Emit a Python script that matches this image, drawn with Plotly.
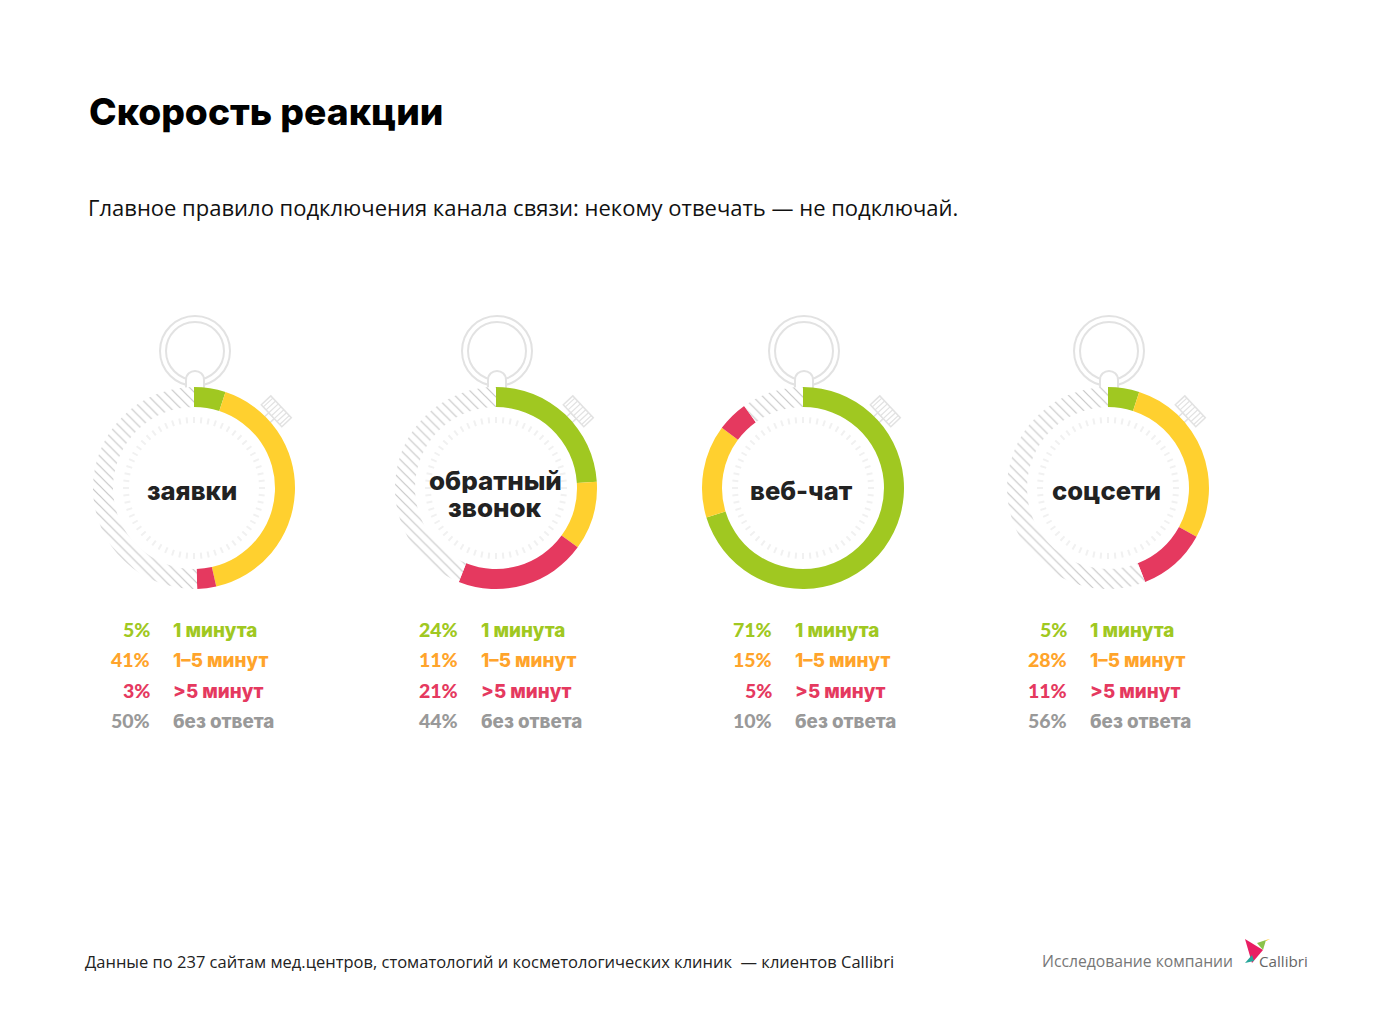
# -*- coding: utf-8 -*-
import math
import plotly.graph_objects as go

W, H = 1380, 1031

# data
ChannelNames = [["заявки"], ["обратный", "звонок"], ["веб-чат"], ["соцсети"]]
Categories = ["1 минута", "1–5 минут", ">5 минут", "без ответа"]
Zayavki = [5, 41, 3, 50]
Zvonok = [24, 11, 21, 44]
WebChat = [71, 15, 5, 10]
SocSeti = [5, 28, 11, 56]
AllValues = [Zayavki, Zvonok, WebChat, SocSeti]

# styles
CenterX = [194, 496, 803, 1108]
PctRight = [152, 460, 774, 1069]
LabLeft = [171, 479, 793, 1088]
CenterY = 488
RowY = [630, 660, 691, 721]
SliceColors = ["#a0c821", "#ffd02f", "#e5395f", "#ffffff"]
LabelColors = ["#a0c821", "#ffa42b", "#e5395f", "#999999"]
HEAD = "Inter"
BODY = "Open Sans"
Outer, Inner = 101, 81

fig = go.Figure()
shapes = []
annots = []


def Txt(x, y, s, size, color, family=BODY, anchor="left", weight=400, height=None):
    annots.append(dict(x=x, y=y, xref="x", yref="y", text=s, showarrow=False, xanchor=anchor, height=height,
                       yanchor="middle", align=anchor,
                       font=dict(size=size, color=color, family=family, weight=weight)))


def Rot(cx, cy, ang, u, v):
    # u along the radius, v along the tangent
    a = math.radians(ang)
    return cx + u * math.sin(a) + v * math.cos(a), cy - u * math.cos(a) + v * math.sin(a)


def PathOf(pts, close=True):
    return "M " + " L ".join("{:.1f} {:.1f}".format(*p) for p in pts) + (" Z" if close else "")


GRAY = "#e2e2e2"
for i, cx in enumerate(CenterX):
    # ring on top of the stopwatch
    for r in (35, 29):
        shapes.append(dict(type="circle", xref="x", yref="y", x0=cx + 1 - r, x1=cx + 1 + r, y0=351 - r, y1=351 + r,
                           line=dict(color=GRAY, width=2), layer="below"))
    shapes.append(dict(type="path", xref="x", yref="y", layer="below", fillcolor="white",
                       line=dict(color=GRAY, width=2),
                       path="M {0} 390 L {0} 380 C {0} 368 {1} 368 {1} 380 L {1} 390".format(cx - 8, cx + 10)))
    # crown, upper right
    stem = [Rot(cx, CenterY, 47, u, v) for u, v in [(98, -4), (106, -4), (106, 4), (98, 4)]]
    shapes.append(dict(type="path", xref="x", yref="y", layer="below", fillcolor="white",
                       line=dict(color=GRAY, width=1.5), path=PathOf(stem)))
    crown = [Rot(cx, CenterY, 47, u, v) for u, v in [(106, -15), (119, -15), (119, 15), (106, 15)]]
    shapes.append(dict(type="path", xref="x", yref="y", layer="below", fillcolor="white",
                       line=dict(color=GRAY, width=1.5), path=PathOf(crown)))
    for v in range(-12, 13, 4):
        p0 = Rot(cx, CenterY, 47, 106, v)
        p1 = Rot(cx, CenterY, 47, 119, v)
        shapes.append(dict(type="line", xref="x", yref="y", layer="below", x0=p0[0], y0=p0[1], x1=p1[0], y1=p1[1],
                           line=dict(color=GRAY, width=1.2)))
    # dial ticks
    tx, ty = [], []
    for k in range(60):
        a = k * 6
        p0 = Rot(cx, CenterY, a, 65, 0)
        p1 = Rot(cx, CenterY, a, 71, 0)
        tx += [p0[0], p1[0], None]
        ty += [p0[1], p1[1], None]
    fig.add_trace(go.Scatter(x=tx, y=ty, mode="lines", line=dict(color="#f1f1f1", width=2), hoverinfo="skip",
                             showlegend=False))
    # donut, the no answer slice is hatched
    fig.add_trace(go.Pie(values=AllValues[i], labels=Categories, sort=False, direction="clockwise", rotation=0,
                         hole=Inner / Outer, textinfo="none", showlegend=False,
                         domain=dict(x=[(cx - Outer) / W, (cx + Outer) / W],
                                     y=[1 - (CenterY + Outer) / H, 1 - (CenterY - Outer) / H]),
                         marker=dict(colors=SliceColors, line=dict(width=0),
                                     pattern=dict(shape=["", "", "", "\\"], fgcolor="#c8c8c8", bgcolor="#ffffff",
                                                  size=7, solidity=0.17))))
    # centre label
    name = ChannelNames[i]
    if len(name) == 1:
        Txt(cx - 2, 490, name[0], 25.6, "#222222", HEAD, "center", 800)
    else:
        Txt(cx - 1, 480, name[0], 26, "#222222", HEAD, "center", 800, height=26)
        Txt(cx - 1, 507, name[1], 26, "#222222", HEAD, "center", 800, height=26)
    # rows under the donut
    for j, cat in enumerate(Categories):
        Txt(PctRight[i], RowY[j] - 1, "{}%".format(AllValues[i][j]), 19.5, LabelColors[j], "Lato", "right", 900)
        Txt(LabLeft[i], RowY[j], cat, 18.8, LabelColors[j], HEAD, "left", 800)

Txt(87, 111, "Скорость реакции", 37.2, "#000000", HEAD, "left", 800)
Txt(86, 207, "Главное правило подключения канала связи: некому отвечать — не подключай.", 22, "#111111")
Txt(83, 961, "Данные по 237 сайтам мед.центров, стоматологий и косметологических клиник  — клиентов Callibri", 16.5, "#222222")
Txt(1040, 961, "Исследование компании", 15.7, "#777777")
Txt(1257, 961, "Callibri", 15.2, "#666666")

# little bird of the logo
for pts, col in [([(1245, 939), (1263, 950), (1252, 963)], "#e91e63"),
                 ([(1257, 943), (1266, 940), (1263, 950)], "#8bc34a"),
                 ([(1266, 940), (1270, 939), (1266, 941)], "#ffc107"),
                 ([(1252, 955), (1245, 963), (1254, 961)], "#26a69a")]:
    shapes.append(dict(type="path", xref="x", yref="y", path=PathOf(pts), fillcolor=col, line=dict(width=0)))

fig.update_layout(width=W, height=H, margin=dict(l=0, r=0, t=0, b=0), paper_bgcolor="white", plot_bgcolor="white",
                  xaxis=dict(range=[0, W], visible=False, fixedrange=True),
                  yaxis=dict(range=[H, 0], visible=False, fixedrange=True),
                  shapes=shapes, annotations=annots, showlegend=False)
fig.write_html("out.html", config=dict(displayModeBar=False),
               post_script="document.body.style.margin='0';document.body.style.overflow='hidden';")
